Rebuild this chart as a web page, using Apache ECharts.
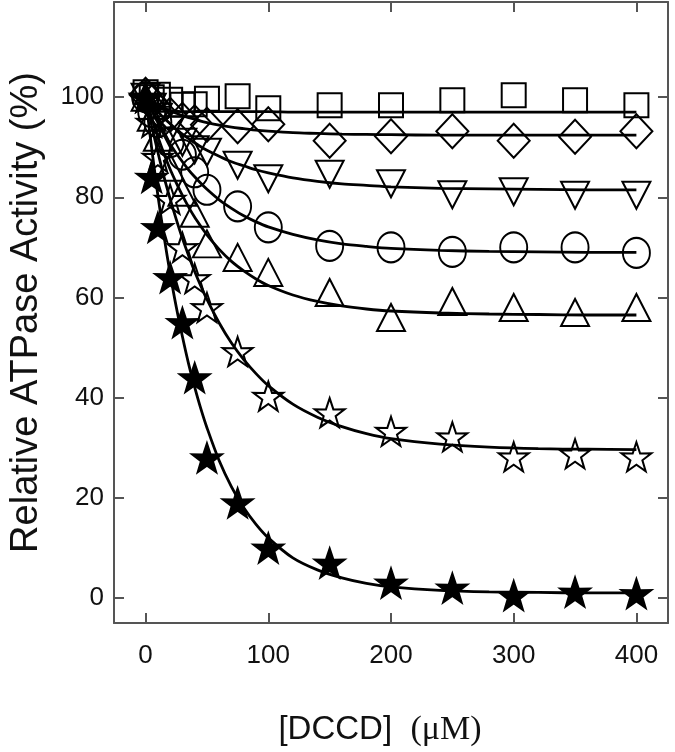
<!DOCTYPE html>
<html><head><meta charset="utf-8">
<script src="https://cdn.jsdelivr.net/npm/echarts@6/dist/echarts.min.js"></script>
<style>html,body{margin:0;padding:0;background:#fff}#c{width:675px;height:752px}</style>
</head><body><div id="c"></div>
<script>
// measured DCCD concentrations (µM)
const concX = [0, 5, 10, 20, 30, 40, 50, 75, 100, 150, 200, 250, 300, 350, 400];
// relative ATPase activity (%) per series
const squareY   = [101, 100, 100.5, 99.5, 98.5, 98.6, 99.7, 100.2, 97.8, 98.4, 98.4, 99.4, 100.4, 99.4, 98.4];
const diamondY  = [100.5, 99, 97.5, 96.5, 95.5, 95, 94.5, 94.2, 94.6, 91.3, 92.2, 93.2, 91.3, 92.1, 93.2];
const downTriY  = [100, 98, 96, 93.5, 91, 89.5, 89, 86.4, 83.7, 84.6, 82.7, 80.5, 81.1, 80.4, 80.4];
const circleY   = [100, 97, 95, 91, 88.5, 85, 81.5, 78.2, 74, 70.3, 70, 69.1, 70, 70, 68.9];
const upTriY    = [100, 96, 92, 86, 81, 76.8, 70.7, 68, 65, 61, 56, 59.2, 58, 57, 58];
const openStarY = [100, 95, 88, 79.6, 70, 63.8, 58, 49.2, 40.3, 37, 33.3, 32.2, 28.2, 28.8, 28.2];
const fillStarY = [100, 84, 74, 64, 55, 44, 28, 19, 10, 7, 3, 2, 0.5, 1.2, 0.9];

// fitted curves
const fitX        = [0, 5, 10, 15, 20, 25, 30, 35, 40, 45, 50, 60, 70, 80, 90, 100, 120, 140, 160, 180, 200, 240, 280, 320, 360, 400];
const fitSquare   = [100, 98.6, 97.9, 97.5, 97.3, 97.2, 97.1, 97.1, 97.1, 97.1, 97.1, 97.1, 97.1, 97.1, 97.1, 97.1, 97, 97, 97, 97, 97, 97, 97, 97, 97, 97];
const fitDiamond  = [100, 99.2, 98.5, 97.9, 97.3, 96.8, 96.3, 95.9, 95.6, 95.2, 94.9, 94.4, 94, 93.7, 93.4, 93.2, 92.9, 92.75, 92.6, 92.55, 92.5, 92.4, 92.4, 92.4, 92.4, 92.4];
const fitDownTri  = [100, 98.5, 97.1, 95.8, 94.7, 93.6, 92.6, 91.7, 90.9, 90.1, 89.4, 88.2, 87.1, 86.3, 85.5, 84.9, 83.9, 83.2, 82.7, 82.4, 82.1, 81.8, 81.7, 81.6, 81.5, 81.5];
const fitCircle   = [100, 97.3, 94.9, 92.7, 90.6, 88.8, 87.1, 85.5, 84.1, 82.8, 81.6, 79.5, 77.8, 76.3, 75.1, 74.1, 72.6, 71.5, 70.7, 70.2, 69.8, 69.4, 69.2, 69.1, 69, 69];
const fitUpTri    = [100, 95.9, 92.1, 88.7, 85.6, 82.9, 80.4, 78.1, 76, 74.2, 72.5, 69.6, 67.2, 65.3, 63.7, 62.4, 60.5, 59.2, 58.3, 57.7, 57.3, 56.9, 56.7, 56.6, 56.5, 56.5];
const fitOpenStar = [100, 94.3, 89, 84.1, 79.7, 75.6, 71.8, 68.4, 65.2, 62.3, 59.6, 54.9, 50.9, 47.6, 44.8, 42.4, 38.7, 36.1, 34.2, 32.8, 31.8, 30.7, 30.1, 29.8, 29.7, 29.6];
const fitFillStar = [100, 89.7, 80.4, 72.2, 64.8, 58.1, 52.2, 46.8, 42.1, 37.8, 34, 27.4, 22.2, 18, 14.7, 12, 8, 5.6, 4, 2.9, 2.2, 1.5, 1.2, 1.1, 1, 1];

const xTicks = [0, 100, 200, 300, 400];
const yTicks = [0, 20, 40, 60, 80, 100];

const STAR = 'path://M50,0 L61.8,35.1 L97.6,34.5 L69,56.2 L79.4,90.5 L50,70 L20.6,90.5 L31,56.2 L2.4,34.5 L38.2,35.1 Z';
const DOWN_TRI = 'path://M0,0 L100,0 L50,90 Z';
const UP_TRI = 'path://M50,0 L100,90 L0,90 Z';

function pts(xs, ys) { return xs.map((x, i) => [x, ys[i]]); }

const markers = [
  { y: squareY,   symbol: 'rect',    size: [24, 24], fill: 'transparent' },
  { y: diamondY,  symbol: 'diamond', size: [32, 34], fill: 'transparent' },
  { y: downTriY,  symbol: DOWN_TRI,  size: [28, 27], fill: 'transparent' },
  { y: circleY,   symbol: 'circle',  size: [27, 30], fill: 'transparent' },
  { y: upTriY,    symbol: UP_TRI,    size: [28, 27], fill: 'transparent' },
  { y: openStarY, symbol: STAR,      size: [30, 29], fill: 'transparent' },
  { y: fillStarY, symbol: STAR,      size: [30, 29], fill: '#000' }
];
const fits = [fitSquare, fitDiamond, fitDownTri, fitCircle, fitUpTri, fitOpenStar, fitFillStar];

const series = [];
fits.forEach(f => series.push({
  type: 'line', data: pts(fitX, f), showSymbol: false, smooth: 0.3,
  lineStyle: { color: '#000', width: 2.8 }, z: 2, silent: true
}));
markers.forEach(m => series.push({
  type: 'scatter', data: pts(concX, m.y), symbol: m.symbol, symbolSize: m.size,
  itemStyle: { color: m.fill, borderColor: '#000', borderWidth: 2, opacity: 1 }, z: 3, silent: true
}));

const frame = { show: true, onZero: false, lineStyle: { color: '#555', width: 2 } };
const tickStyle = { color: '#555', width: 2 };
const labelFont = { fontFamily: "'Liberation Sans', Arial, sans-serif", fontSize: 26, color: '#111' };

const option = {
  animation: false,
  backgroundColor: '#fff',
  grid: { left: 107, right: 7, top: 2, bottom: 118, containLabel: false },
  xAxis: [
    { type: 'value', position: 'bottom', min: -25.75, max: 425.75,
      axisLine: frame,
      axisTick: { show: true, inside: true, length: 10, customValues: xTicks, lineStyle: tickStyle },
      axisLabel: Object.assign({ customValues: xTicks, margin: 20 }, labelFont),
      splitLine: { show: false },
      name: '{a|[DCCD]  }{b|(μM)}', nameLocation: 'middle', nameGap: 90,
      nameTextStyle: { padding: [0, 22, 0, 0], rich: {
        a: { fontFamily: "'Liberation Sans', Arial, sans-serif", fontSize: 33, color: '#111' },
        b: { fontFamily: "'Liberation Serif', 'Times New Roman', serif", fontSize: 34, color: '#111' }
      } } },
    { type: 'value', position: 'top', min: -25.75, max: 425.75,
      axisLine: frame,
      axisTick: { show: true, inside: true, length: 10, customValues: xTicks, lineStyle: tickStyle },
      axisLabel: { show: false }, splitLine: { show: false } }
  ],
  yAxis: [
    { type: 'value', position: 'left', min: -5, max: 119,
      axisLine: frame,
      axisTick: { show: true, inside: true, length: 10, customValues: yTicks, lineStyle: tickStyle },
      axisLabel: Object.assign({ customValues: yTicks, margin: 10 }, labelFont),
      splitLine: { show: false },
      name: 'Relative ATPase Activity (%)', nameLocation: 'middle', nameGap: 68,
      nameTextStyle: { fontFamily: "'Liberation Sans', Arial, sans-serif", fontSize: 38, color: '#111' } },
    { type: 'value', position: 'right', min: -5, max: 119,
      axisLine: frame,
      axisTick: { show: true, inside: true, length: 10, customValues: yTicks, lineStyle: tickStyle },
      axisLabel: { show: false }, splitLine: { show: false } }
  ],
  series: series
};

const chart = echarts.init(document.getElementById('c'), null, { renderer: 'canvas' });
chart.setOption(option);
</script>
</body></html>
